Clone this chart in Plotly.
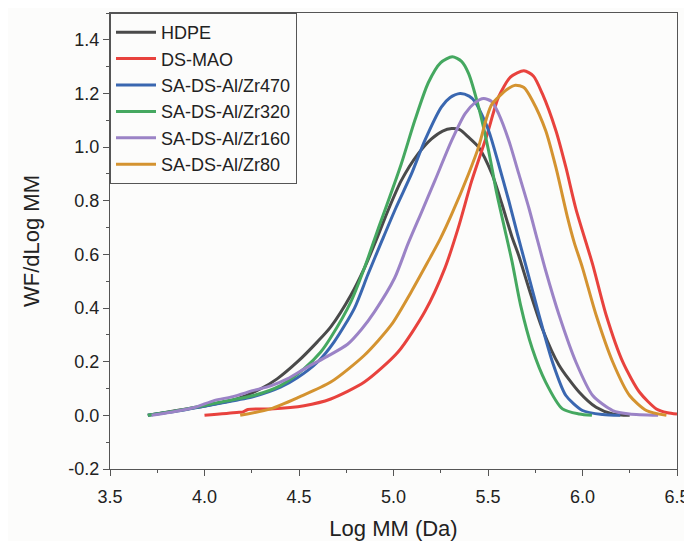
import plotly.graph_objects as go

# ---- data ----
series_names = ["HDPE", "DS-MAO", "SA-DS-Al/Zr470", "SA-DS-Al/Zr320", "SA-DS-Al/Zr160", "SA-DS-Al/Zr80"]
series_colors = ["#4a4a4a", "#e8423d", "#3a67b0", "#45a860", "#9b83c6", "#d49330"]

hdpe_x = [3.70, 3.80, 3.905, 4.0, 4.171, 4.30, 4.384, 4.491, 4.597, 4.668, 4.775, 4.846, 4.917, 4.970, 5.041,
          5.130, 5.201, 5.260, 5.308, 5.350, 5.397, 5.450, 5.521, 5.574, 5.627, 5.663, 5.716, 5.787, 5.876,
          5.983, 6.072, 6.160, 6.250]
hdpe_y = [0.0, 0.012, 0.024, 0.035, 0.061, 0.10, 0.136, 0.199, 0.274, 0.330, 0.449, 0.549, 0.668, 0.762, 0.875,
          0.975, 1.031, 1.060, 1.069, 1.065, 1.037, 1.000, 0.900, 0.787, 0.665, 0.595, 0.474, 0.324, 0.187,
          0.086, 0.030, 0.005, 0.0]

dsmao_x = [4.00, 4.171, 4.20, 4.23, 4.349, 4.527, 4.668, 4.846, 5.024, 5.166, 5.272, 5.343, 5.414, 5.494, 5.556,
           5.62, 5.690, 5.74, 5.787, 5.859, 5.912, 5.965, 6.054, 6.125, 6.213, 6.302, 6.391, 6.45, 6.50]
dsmao_y = [0.0, 0.011, 0.012, 0.022, 0.024, 0.036, 0.061, 0.124, 0.236, 0.387, 0.549, 0.70, 0.875, 1.044, 1.187,
           1.262, 1.285, 1.265, 1.200, 1.062, 0.925, 0.770, 0.562, 0.374, 0.199, 0.086, 0.024, 0.010, 0.005]

zr470_x = [3.70, 3.905, 4.082, 4.260, 4.402, 4.491, 4.60, 4.686, 4.793, 4.864, 4.940, 5.013, 5.095, 5.166, 5.254,
           5.300, 5.352, 5.400, 5.432, 5.503, 5.556, 5.610, 5.654, 5.699, 5.770, 5.841, 5.912, 6.000, 6.107, 6.20]
zr470_y = [0.0, 0.022, 0.045, 0.07, 0.105, 0.14, 0.20, 0.274, 0.399, 0.524, 0.653, 0.774, 0.900, 1.025, 1.150,
           1.185, 1.200, 1.190, 1.169, 1.062, 0.937, 0.800, 0.680, 0.562, 0.374, 0.199, 0.074, 0.018, 0.003, 0.0]

zr320_x = [3.70, 3.905, 4.082, 4.260, 4.402, 4.527, 4.615, 4.668, 4.775, 4.846, 4.926, 4.965, 5.041, 5.113, 5.184,
           5.250, 5.311, 5.360, 5.397, 5.450, 5.503, 5.547, 5.590, 5.627, 5.672, 5.734, 5.805, 5.894, 5.983, 6.05]
zr320_y = [0.0, 0.024, 0.049, 0.074, 0.111, 0.174, 0.236, 0.290, 0.424, 0.549, 0.710, 0.785, 0.937, 1.100, 1.240,
           1.315, 1.337, 1.320, 1.275, 1.150, 0.987, 0.825, 0.690, 0.574, 0.412, 0.249, 0.124, 0.024, 0.005, 0.0]

zr160_x = [3.72, 3.85, 3.95, 4.05, 4.15, 4.26, 4.35, 4.438, 4.544, 4.65, 4.757, 4.83, 4.900, 5.006, 5.077, 5.148,
           5.219, 5.308, 5.379, 5.430, 5.477, 5.520, 5.556, 5.610, 5.663, 5.716, 5.761, 5.805, 5.876, 5.965,
           6.054, 6.160, 6.249, 6.40]
zr160_y = [0.0, 0.015, 0.03, 0.055, 0.07, 0.093, 0.11, 0.136, 0.180, 0.220, 0.265, 0.32, 0.387, 0.512, 0.640, 0.757,
           0.875, 1.025, 1.125, 1.165, 1.181, 1.170, 1.125, 1.025, 0.900, 0.774, 0.655, 0.540, 0.374, 0.199,
           0.074, 0.018, 0.005, 0.0]

zr80_x = [4.189, 4.349, 4.50, 4.668, 4.846, 4.988, 5.095, 5.183, 5.246, 5.308, 5.397, 5.450, 5.494, 5.521, 5.60,
          5.645, 5.690, 5.734, 5.805, 5.859, 5.92, 5.956, 6.0, 6.072, 6.160, 6.249, 6.338, 6.444]
zr80_y = [0.0, 0.024, 0.068, 0.124, 0.224, 0.337, 0.462, 0.574, 0.656, 0.750, 0.900, 1.000, 1.112, 1.160, 1.215,
          1.231, 1.222, 1.175, 1.062, 0.925, 0.740, 0.645, 0.550, 0.374, 0.199, 0.074, 0.018, 0.0]

x_ticks = [3.5, 4.0, 4.5, 5.0, 5.5, 6.0, 6.5]
y_ticks = [-0.2, 0.0, 0.2, 0.4, 0.6, 0.8, 1.0, 1.2, 1.4]

all_x = [hdpe_x, dsmao_x, zr470_x, zr320_x, zr160_x, zr80_x]
all_y = [hdpe_y, dsmao_y, zr470_y, zr320_y, zr160_y, zr80_y]

fig = go.Figure()
for name, color, xs, ys in zip(series_names, series_colors, all_x, all_y):
    fig.add_trace(go.Scatter(x=xs, y=ys, mode="lines", name=name,
                             line=dict(color=color, width=3, shape="spline", smoothing=0.7)))

font_family = "Liberation Sans, Arial, sans-serif"
axis_common = dict(showline=True, linecolor="#555555", linewidth=1, mirror=True,
                   ticks="outside", ticklen=6, tickcolor="#555555", showgrid=False, zeroline=False,
                   automargin=False,
                   tickfont=dict(family=font_family, size=18, color="#222222"))

# the page body adds an 8px offset, so the figure is sized 8px smaller on each axis
fig.update_layout(
    width=684, height=533,
    margin=dict(l=102, r=15, t=5, b=71.5, autoexpand=False),
    paper_bgcolor="#fcfcfb", plot_bgcolor="#fcfcfb",
    font=dict(family=font_family, color="#222222"),
    legend=dict(x=0, y=1, xanchor="left", yanchor="top", bgcolor="#fcfcfb",
                bordercolor="#555555", borderwidth=1, font=dict(size=18, color="#222222"),
                tracegroupgap=0, itemwidth=40),
    xaxis=dict(range=[3.5, 6.5], tickvals=x_ticks, ticktext=[f"{v:.1f}" for v in x_ticks],
               ticklabelstandoff=5,
               title=dict(text="Log MM (Da)", font=dict(size=22), standoff=15),
               minor=dict(dtick=0.25, ticks="outside", ticklen=3, tickcolor="#555555"),
               **axis_common),
    yaxis=dict(range=[-0.2, 1.5], tickvals=y_ticks, ticktext=[f"{v:.1f}" for v in y_ticks],
               title=dict(text="WF/dLog MM", font=dict(size=22), standoff=22),
               minor=dict(dtick=0.1, ticks="outside", ticklen=3, tickcolor="#555555"),
               **axis_common),
)

fig.write_html("out.html")
